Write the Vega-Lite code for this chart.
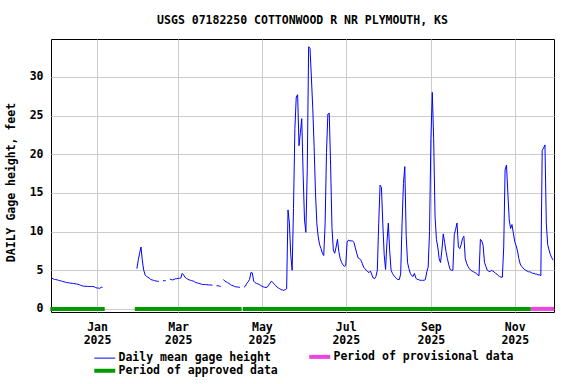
{
  "$schema": "https://vega.github.io/schema/vega-lite/v6.json",
  "width": 503,
  "height": 273,
  "autosize": {"type": "none"},
  "padding": {"left": 51, "top": 39, "right": 22, "bottom": 72},
  "background": "white",
  "config": {
    "font": "DejaVu Sans Mono",
    "view": {"stroke": "black", "strokeWidth": 1}
  },
  "title": {
    "text": "USGS 07182250 COTTONWOOD R NR PLYMOUTH, KS",
    "font": "DejaVu Sans Mono",
    "fontSize": 11.5,
    "fontWeight": "bold",
    "color": "black",
    "anchor": "middle",
    "offset": 13
  },
  "datasets": {
    "periods": [
      {"start": "2024-11-28T00:00:00Z", "end": "2025-01-06T14:00:00Z", "series": "Period of approved data"},
      {"start": "2025-01-28T12:00:00Z", "end": "2025-04-16T05:00:00Z", "series": "Period of approved data"},
      {"start": "2025-04-17T02:00:00Z", "end": "2025-11-12T17:00:00Z", "series": "Period of approved data"},
      {"start": "2025-11-12T17:00:00Z", "end": "2025-11-29T14:00:00Z", "series": "Period of provisional data"}
    ],
    "gage": [
      {"d":"2024-11-29","h":4.0,"s":1},{"d":"2024-11-30","h":3.9,"s":1},{"d":"2024-12-01","h":3.8,"s":1},{"d":"2024-12-02","h":3.8,"s":1},{"d":"2024-12-03","h":3.75,"s":1},{"d":"2024-12-04","h":3.7,"s":1},{"d":"2024-12-05","h":3.65,"s":1},{"d":"2024-12-06","h":3.6,"s":1},{"d":"2024-12-07","h":3.55,"s":1},{"d":"2024-12-08","h":3.5,"s":1},{"d":"2024-12-09","h":3.45,"s":1},{"d":"2024-12-10","h":3.4,"s":1},{"d":"2024-12-11","h":3.38,"s":1},{"d":"2024-12-12","h":3.36,"s":1},{"d":"2024-12-13","h":3.33,"s":1},{"d":"2024-12-14","h":3.3,"s":1},{"d":"2024-12-15","h":3.28,"s":1},{"d":"2024-12-16","h":3.25,"s":1},{"d":"2024-12-17","h":3.22,"s":1},{"d":"2024-12-18","h":3.2,"s":1},{"d":"2024-12-19","h":3.12,"s":1},{"d":"2024-12-20","h":3.06,"s":1},{"d":"2024-12-21","h":3.0,"s":1},{"d":"2024-12-22","h":2.95,"s":1},{"d":"2024-12-23","h":2.93,"s":1},{"d":"2024-12-24","h":2.92,"s":1},{"d":"2024-12-25","h":2.91,"s":1},{"d":"2024-12-26","h":2.9,"s":1},{"d":"2024-12-27","h":2.9,"s":1},{"d":"2024-12-28","h":2.9,"s":1},{"d":"2024-12-29","h":2.9,"s":1},{"d":"2024-12-30","h":2.85,"s":1},{"d":"2024-12-31","h":2.75,"s":1},{"d":"2025-01-01","h":2.7,"s":1},{"d":"2025-01-02","h":2.7,"s":1},{"d":"2025-01-03","h":2.65,"s":1},{"d":"2025-01-04","h":2.8,"s":1},{"d":"2025-01-05","h":2.8,"s":1},
      {"d":"2025-01-30","h":5.2,"s":2},{"d":"2025-01-31","h":6.3,"s":2},{"d":"2025-02-01","h":7.2,"s":2},{"d":"2025-02-02","h":8.0,"s":2},{"d":"2025-02-03","h":6.2,"s":2},{"d":"2025-02-04","h":5.0,"s":2},{"d":"2025-02-05","h":4.4,"s":2},{"d":"2025-02-06","h":4.2,"s":2},{"d":"2025-02-07","h":4.1,"s":2},{"d":"2025-02-08","h":4.0,"s":2},{"d":"2025-02-09","h":3.8,"s":2},{"d":"2025-02-10","h":3.75,"s":2},{"d":"2025-02-11","h":3.7,"s":2},{"d":"2025-02-12","h":3.65,"s":2},{"d":"2025-02-13","h":3.6,"s":2},{"d":"2025-02-14","h":3.58,"s":2},{"d":"2025-02-15","h":3.55,"s":2},
      {"d":"2025-02-18","h":3.65,"s":3},{"d":"2025-02-19","h":3.65,"s":3},{"d":"2025-02-20","h":3.65,"s":3},
      {"d":"2025-02-23","h":3.85,"s":4},{"d":"2025-02-24","h":3.8,"s":4},{"d":"2025-02-25","h":3.75,"s":4},{"d":"2025-02-26","h":3.8,"s":4},{"d":"2025-02-27","h":3.9,"s":4},{"d":"2025-02-28","h":3.9,"s":4},{"d":"2025-03-01","h":3.95,"s":4},{"d":"2025-03-02","h":3.95,"s":4},{"d":"2025-03-03","h":4.0,"s":4},{"d":"2025-03-04","h":4.6,"s":4},{"d":"2025-03-05","h":4.4,"s":4},{"d":"2025-03-06","h":4.1,"s":4},{"d":"2025-03-07","h":3.95,"s":4},{"d":"2025-03-08","h":3.85,"s":4},{"d":"2025-03-09","h":3.75,"s":4},{"d":"2025-03-10","h":3.7,"s":4},{"d":"2025-03-11","h":3.65,"s":4},{"d":"2025-03-12","h":3.6,"s":4},{"d":"2025-03-13","h":3.5,"s":4},{"d":"2025-03-14","h":3.4,"s":4},{"d":"2025-03-15","h":3.35,"s":4},{"d":"2025-03-16","h":3.3,"s":4},{"d":"2025-03-17","h":3.25,"s":4},{"d":"2025-03-18","h":3.2,"s":4},{"d":"2025-03-19","h":3.15,"s":4},{"d":"2025-03-20","h":3.15,"s":4},{"d":"2025-03-21","h":3.15,"s":4},{"d":"2025-03-22","h":3.12,"s":4},{"d":"2025-03-23","h":3.1,"s":4},{"d":"2025-03-24","h":3.1,"s":4},{"d":"2025-03-25","h":3.1,"s":4},{"d":"2025-03-26","h":3.05,"s":4},
      {"d":"2025-03-29","h":3.0,"s":5},{"d":"2025-03-30","h":3.0,"s":5},{"d":"2025-03-31","h":2.95,"s":5},{"d":"2025-04-01","h":2.9,"s":5},
      {"d":"2025-04-03","h":3.8,"s":6},{"d":"2025-04-04","h":3.6,"s":6},{"d":"2025-04-05","h":3.5,"s":6},{"d":"2025-04-06","h":3.4,"s":6},{"d":"2025-04-07","h":3.3,"s":6},{"d":"2025-04-08","h":3.15,"s":6},{"d":"2025-04-09","h":3.05,"s":6},{"d":"2025-04-10","h":3.0,"s":6},{"d":"2025-04-11","h":2.9,"s":6},{"d":"2025-04-12","h":2.85,"s":6},{"d":"2025-04-13","h":2.85,"s":6},{"d":"2025-04-14","h":2.8,"s":6},{"d":"2025-04-15","h":2.8,"s":6},
      {"d":"2025-04-18","h":2.8,"s":7},{"d":"2025-04-19","h":2.95,"s":7},{"d":"2025-04-20","h":3.3,"s":7},{"d":"2025-04-21","h":3.5,"s":7},{"d":"2025-04-22","h":3.8,"s":7},{"d":"2025-04-23","h":4.7,"s":7},{"d":"2025-04-24","h":4.65,"s":7},{"d":"2025-04-25","h":3.6,"s":7},{"d":"2025-04-26","h":3.4,"s":7},{"d":"2025-04-27","h":3.3,"s":7},{"d":"2025-04-28","h":3.25,"s":7},{"d":"2025-04-29","h":3.15,"s":7},{"d":"2025-04-30","h":3.05,"s":7},{"d":"2025-05-01","h":2.95,"s":7},{"d":"2025-05-02","h":2.85,"s":7},{"d":"2025-05-03","h":2.8,"s":7},{"d":"2025-05-04","h":2.76,"s":7},{"d":"2025-05-05","h":2.85,"s":7},{"d":"2025-05-06","h":3.1,"s":7},{"d":"2025-05-07","h":3.35,"s":7},{"d":"2025-05-08","h":3.6,"s":7},{"d":"2025-05-09","h":3.4,"s":7},{"d":"2025-05-10","h":3.2,"s":7},{"d":"2025-05-11","h":3.0,"s":7},{"d":"2025-05-12","h":2.85,"s":7},{"d":"2025-05-13","h":2.7,"s":7},{"d":"2025-05-14","h":2.6,"s":7},{"d":"2025-05-15","h":2.5,"s":7},{"d":"2025-05-16","h":2.45,"s":7},{"d":"2025-05-17","h":2.4,"s":7},{"d":"2025-05-18","h":2.5,"s":7},{"d":"2025-05-19","h":2.6,"s":7},{"d":"2025-05-20","h":12.8,"s":7},{"d":"2025-05-21","h":11.1,"s":7},{"d":"2025-05-22","h":7.0,"s":7},{"d":"2025-05-23","h":5.0,"s":7},{"d":"2025-05-24","h":13.0,"s":7},{"d":"2025-05-25","h":23.3,"s":7},{"d":"2025-05-26","h":27.4,"s":7},{"d":"2025-05-27","h":27.7,"s":7},{"d":"2025-05-28","h":21.1,"s":7},{"d":"2025-05-29","h":22.8,"s":7},{"d":"2025-05-30","h":24.6,"s":7},{"d":"2025-05-31","h":17.4,"s":7},{"d":"2025-06-01","h":11.5,"s":7},{"d":"2025-06-02","h":9.9,"s":7},{"d":"2025-06-03","h":18.0,"s":7},{"d":"2025-06-04","h":33.9,"s":7},{"d":"2025-06-05","h":33.7,"s":7},{"d":"2025-06-06","h":30.0,"s":7},{"d":"2025-06-07","h":26.0,"s":7},{"d":"2025-06-08","h":21.0,"s":7},{"d":"2025-06-09","h":15.0,"s":7},{"d":"2025-06-10","h":11.0,"s":7},{"d":"2025-06-11","h":9.3,"s":7},{"d":"2025-06-12","h":8.3,"s":7},{"d":"2025-06-13","h":7.8,"s":7},{"d":"2025-06-14","h":7.2,"s":7},{"d":"2025-06-15","h":6.9,"s":7},{"d":"2025-06-16","h":11.0,"s":7},{"d":"2025-06-17","h":20.2,"s":7},{"d":"2025-06-18","h":25.2,"s":7},{"d":"2025-06-19","h":25.3,"s":7},{"d":"2025-06-20","h":18.5,"s":7},{"d":"2025-06-21","h":10.5,"s":7},{"d":"2025-06-22","h":7.6,"s":7},{"d":"2025-06-23","h":7.2,"s":7},{"d":"2025-06-24","h":8.0,"s":7},{"d":"2025-06-25","h":9.0,"s":7},{"d":"2025-06-26","h":7.4,"s":7},{"d":"2025-06-27","h":6.5,"s":7},{"d":"2025-06-28","h":6.0,"s":7},{"d":"2025-06-29","h":5.7,"s":7},{"d":"2025-06-30","h":5.5,"s":7},{"d":"2025-07-01","h":5.6,"s":7},{"d":"2025-07-02","h":8.6,"s":7},{"d":"2025-07-03","h":8.9,"s":7},{"d":"2025-07-04","h":8.8,"s":7},{"d":"2025-07-05","h":8.8,"s":7},{"d":"2025-07-06","h":8.8,"s":7},{"d":"2025-07-07","h":8.6,"s":7},{"d":"2025-07-08","h":7.9,"s":7},{"d":"2025-07-09","h":7.2,"s":7},{"d":"2025-07-10","h":6.6,"s":7},{"d":"2025-07-11","h":6.5,"s":7},{"d":"2025-07-12","h":6.3,"s":7},{"d":"2025-07-13","h":5.9,"s":7},{"d":"2025-07-14","h":5.4,"s":7},{"d":"2025-07-15","h":5.2,"s":7},{"d":"2025-07-16","h":5.0,"s":7},{"d":"2025-07-17","h":4.8,"s":7},{"d":"2025-07-18","h":4.7,"s":7},{"d":"2025-07-19","h":4.9,"s":7},{"d":"2025-07-20","h":4.4,"s":7},{"d":"2025-07-21","h":4.0,"s":7},{"d":"2025-07-22","h":3.9,"s":7},{"d":"2025-07-23","h":4.2,"s":7},{"d":"2025-07-24","h":5.0,"s":7},{"d":"2025-07-25","h":11.0,"s":7},{"d":"2025-07-26","h":16.0,"s":7},{"d":"2025-07-27","h":15.7,"s":7},{"d":"2025-07-28","h":11.0,"s":7},{"d":"2025-07-29","h":7.0,"s":7},{"d":"2025-07-30","h":5.1,"s":7},{"d":"2025-07-31","h":8.6,"s":7},{"d":"2025-08-01","h":11.1,"s":7},{"d":"2025-08-02","h":7.5,"s":7},{"d":"2025-08-03","h":5.0,"s":7},{"d":"2025-08-04","h":4.6,"s":7},{"d":"2025-08-05","h":4.3,"s":7},{"d":"2025-08-06","h":4.1,"s":7},{"d":"2025-08-07","h":3.9,"s":7},{"d":"2025-08-08","h":3.8,"s":7},{"d":"2025-08-09","h":3.8,"s":7},{"d":"2025-08-10","h":4.5,"s":7},{"d":"2025-08-11","h":11.0,"s":7},{"d":"2025-08-12","h":16.2,"s":7},{"d":"2025-08-13","h":18.4,"s":7},{"d":"2025-08-14","h":9.5,"s":7},{"d":"2025-08-15","h":6.0,"s":7},{"d":"2025-08-16","h":5.2,"s":7},{"d":"2025-08-17","h":4.6,"s":7},{"d":"2025-08-18","h":4.3,"s":7},{"d":"2025-08-19","h":4.2,"s":7},{"d":"2025-08-20","h":4.6,"s":7},{"d":"2025-08-21","h":4.0,"s":7},{"d":"2025-08-22","h":3.8,"s":7},{"d":"2025-08-23","h":3.8,"s":7},{"d":"2025-08-24","h":3.7,"s":7},{"d":"2025-08-25","h":3.7,"s":7},{"d":"2025-08-26","h":3.7,"s":7},{"d":"2025-08-27","h":3.7,"s":7},{"d":"2025-08-28","h":3.8,"s":7},{"d":"2025-08-29","h":4.8,"s":7},{"d":"2025-08-30","h":5.4,"s":7},{"d":"2025-08-31","h":10.0,"s":7},{"d":"2025-09-01","h":22.0,"s":7},{"d":"2025-09-02","h":28.0,"s":7},{"d":"2025-09-03","h":22.0,"s":7},{"d":"2025-09-04","h":12.0,"s":7},{"d":"2025-09-05","h":9.0,"s":7},{"d":"2025-09-06","h":8.0,"s":7},{"d":"2025-09-07","h":6.5,"s":7},{"d":"2025-09-08","h":6.0,"s":7},{"d":"2025-09-09","h":7.6,"s":7},{"d":"2025-09-10","h":9.7,"s":7},{"d":"2025-09-11","h":8.6,"s":7},{"d":"2025-09-12","h":7.4,"s":7},{"d":"2025-09-13","h":6.5,"s":7},{"d":"2025-09-14","h":5.7,"s":7},{"d":"2025-09-15","h":5.1,"s":7},{"d":"2025-09-16","h":5.0,"s":7},{"d":"2025-09-17","h":5.0,"s":7},{"d":"2025-09-18","h":9.6,"s":7},{"d":"2025-09-19","h":10.3,"s":7},{"d":"2025-09-20","h":11.1,"s":7},{"d":"2025-09-21","h":8.0,"s":7},{"d":"2025-09-22","h":7.8,"s":7},{"d":"2025-09-23","h":8.3,"s":7},{"d":"2025-09-24","h":9.1,"s":7},{"d":"2025-09-25","h":9.4,"s":7},{"d":"2025-09-26","h":6.5,"s":7},{"d":"2025-09-27","h":5.9,"s":7},{"d":"2025-09-28","h":5.5,"s":7},{"d":"2025-09-29","h":5.2,"s":7},{"d":"2025-09-30","h":5.0,"s":7},{"d":"2025-10-01","h":4.9,"s":7},{"d":"2025-10-02","h":4.8,"s":7},{"d":"2025-10-03","h":4.7,"s":7},{"d":"2025-10-04","h":4.6,"s":7},{"d":"2025-10-05","h":4.4,"s":7},{"d":"2025-10-06","h":4.3,"s":7},{"d":"2025-10-07","h":9.0,"s":7},{"d":"2025-10-08","h":8.8,"s":7},{"d":"2025-10-09","h":8.2,"s":7},{"d":"2025-10-10","h":6.0,"s":7},{"d":"2025-10-11","h":5.5,"s":7},{"d":"2025-10-12","h":5.0,"s":7},{"d":"2025-10-13","h":4.9,"s":7},{"d":"2025-10-14","h":4.8,"s":7},{"d":"2025-10-15","h":5.0,"s":7},{"d":"2025-10-16","h":4.9,"s":7},{"d":"2025-10-17","h":4.8,"s":7},{"d":"2025-10-18","h":4.6,"s":7},{"d":"2025-10-19","h":4.5,"s":7},{"d":"2025-10-20","h":4.3,"s":7},{"d":"2025-10-21","h":4.2,"s":7},{"d":"2025-10-22","h":4.1,"s":7},{"d":"2025-10-23","h":4.1,"s":7},{"d":"2025-10-24","h":8.0,"s":7},{"d":"2025-10-25","h":18.0,"s":7},{"d":"2025-10-26","h":18.6,"s":7},{"d":"2025-10-27","h":15.0,"s":7},{"d":"2025-10-28","h":11.5,"s":7},{"d":"2025-10-29","h":10.4,"s":7},{"d":"2025-10-30","h":10.9,"s":7},{"d":"2025-10-31","h":9.8,"s":7},{"d":"2025-11-01","h":8.7,"s":7},{"d":"2025-11-02","h":8.2,"s":7},{"d":"2025-11-03","h":7.5,"s":7},{"d":"2025-11-04","h":6.5,"s":7},{"d":"2025-11-05","h":5.8,"s":7},{"d":"2025-11-06","h":5.5,"s":7},{"d":"2025-11-07","h":5.3,"s":7},{"d":"2025-11-08","h":5.1,"s":7},{"d":"2025-11-09","h":5.0,"s":7},{"d":"2025-11-10","h":4.9,"s":7},{"d":"2025-11-11","h":4.8,"s":7},{"d":"2025-11-12","h":4.8,"s":7},{"d":"2025-11-13","h":4.7,"s":7},{"d":"2025-11-14","h":4.6,"s":7},{"d":"2025-11-15","h":4.6,"s":7},{"d":"2025-11-16","h":4.5,"s":7},{"d":"2025-11-17","h":4.5,"s":7},{"d":"2025-11-18","h":4.4,"s":7},{"d":"2025-11-19","h":4.4,"s":7},{"d":"2025-11-20","h":4.3,"s":7},{"d":"2025-11-21","h":20.5,"s":7},{"d":"2025-11-22","h":20.8,"s":7},{"d":"2025-11-23","h":21.2,"s":7},{"d":"2025-11-24","h":11.0,"s":7},{"d":"2025-11-25","h":8.3,"s":7},{"d":"2025-11-26","h":7.6,"s":7},{"d":"2025-11-27","h":7.0,"s":7},{"d":"2025-11-28","h":6.6,"s":7},{"d":"2025-11-29","h":6.3,"s":7}
    ]
  },
  "layer": [
    {
      "data": {"name": "periods"},
      "mark": {"type": "rule", "strokeWidth": 4, "strokeCap": "butt", "clip": false},
      "encoding": {
        "x": {"field": "start", "type": "temporal"},
        "x2": {"field": "end"},
        "y": {"datum": 0},
        "color": {
          "field": "series",
          "type": "nominal",
          "scale": {
            "domain": ["Daily mean gage height", "Period of approved data", "Period of provisional data"],
            "range": ["#0000ff", "#009900", "#ee44dd"]
          },
          "legend": {
            "orient": "none",
            "legendX": 48,
            "legendY": 312,
            "columns": 2,
            "gridAlign": "all",
            "title": null,
            "padding": 0,
            "symbolType": "stroke",
            "symbolSize": 440,
            "symbolStrokeWidth": 4,
            "labelFont": "DejaVu Sans Mono",
            "labelFontSize": 11.5,
            "labelFontWeight": "bold",
            "labelColor": "black",
            "labelOffset": 8,
            "labelLimit": 400,
            "columnPadding": 2,
            "rowPadding": -3,
            "encode": {
              "symbols": {
                "update": {
                  "strokeWidth": {"signal": "datum.value === 'Daily mean gage height' ? 1 : 4"}
                }
              }
            }
          }
        }
      }
    },
    {
      "data": {"name": "gage"},
      "mark": {"type": "line", "strokeWidth": 1, "interpolate": "linear"},
      "encoding": {
        "x": {
          "field": "d",
          "type": "temporal",
          "scale": {
            "type": "utc",
            "domain": [
              {"year": 2024, "month": 11, "date": 28, "hours": 12, "utc": true},
              {"year": 2025, "month": 11, "date": 29, "hours": 14, "utc": true}
            ]
          },
          "axis": {
            "values": [
              {"year": 2025, "month": 1, "date": 1, "utc": true},
              {"year": 2025, "month": 3, "date": 1, "utc": true},
              {"year": 2025, "month": 5, "date": 1, "utc": true},
              {"year": 2025, "month": 7, "date": 1, "utc": true},
              {"year": 2025, "month": 9, "date": 1, "utc": true},
              {"year": 2025, "month": 11, "date": 1, "utc": true}
            ],
            "grid": true,
            "gridColor": "#cccccc",
            "domain": false,
            "ticks": false,
            "title": null,
            "labelExpr": "[utcFormat(datum.value, '%b'), utcFormat(datum.value, '%Y')]",
            "labelLineHeight": 13,
            "labelPadding": 9,
            "labelFont": "DejaVu Sans Mono",
            "labelFontSize": 11.5,
            "labelFontWeight": "bold",
            "labelColor": "black",
            "labelAlign": "center",
            "labelFlush": false,
            "labelOverlap": false
          }
        },
        "y": {
          "field": "h",
          "type": "quantitative",
          "scale": {"domain": [-0.4, 34.9], "nice": false, "zero": false},
          "axis": {
            "values": [0, 5, 10, 15, 20, 25, 30],
            "grid": true,
            "gridColor": "#cccccc",
            "domain": false,
            "ticks": false,
            "labelPadding": 8,
            "labelFont": "DejaVu Sans Mono",
            "labelFontSize": 11.5,
            "labelFontWeight": "bold",
            "labelColor": "black",
            "title": "DAILY Gage height, feet",
            "titleFont": "DejaVu Sans Mono",
            "titleFontSize": 11.5,
            "titleFontWeight": "bold",
            "titleColor": "black",
            "titleX": -40,
            "titleY": 143,
            "titleAngle": 270,
            "titleAlign": "center",
            "titleBaseline": "middle"
          }
        },
        "detail": {"field": "s", "type": "nominal"},
        "color": {"datum": "Daily mean gage height", "type": "nominal"}
      }
    }
  ]
}
